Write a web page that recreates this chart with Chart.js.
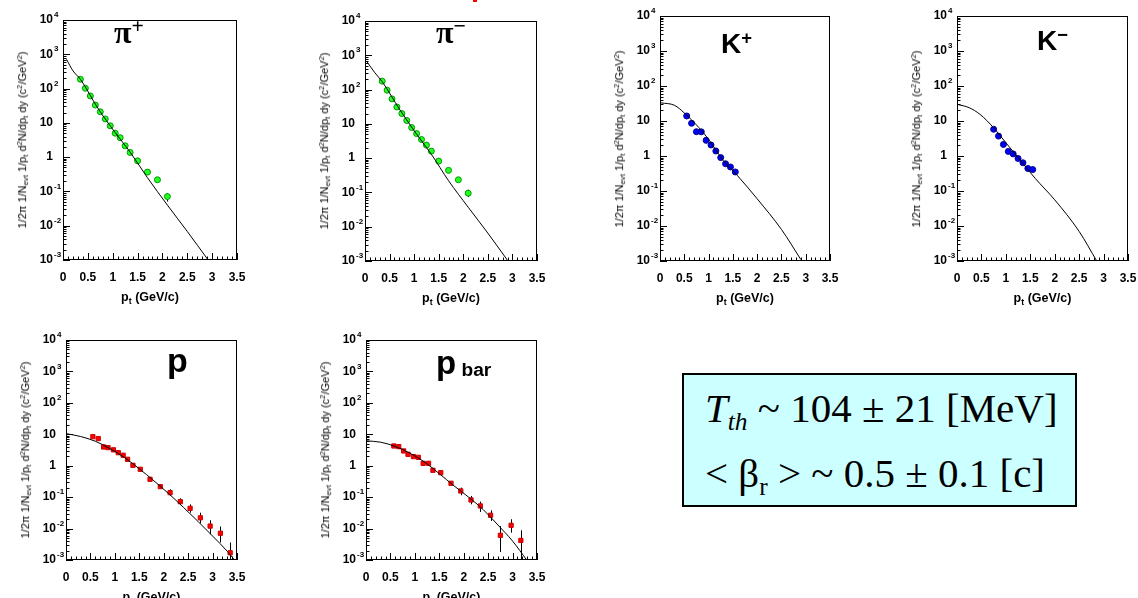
<!DOCTYPE html>
<html>
<head>
<meta charset="utf-8">
<script src="https://cdn.jsdelivr.net/npm/chart.js@4.4.0/dist/chart.umd.min.js"></script>
<style>
  body { margin: 0; width: 1138px; height: 598px; background: #fff; position: relative; overflow: hidden; }
  .lab { position: absolute; line-height: 1; color: #000; white-space: nowrap; }
  .sym { font-family: "Liberation Serif", serif; font-weight: bold; font-size: 32px; }
  .let { font-family: "Liberation Sans", Arial, sans-serif; font-weight: bold; }
  .xt { font-family: "Liberation Sans", Arial, sans-serif; font-weight: bold; font-size: 12.5px; transform: translateX(-50%); }
  .yt { font-family: "Liberation Sans", Arial, sans-serif; font-size: 11px; transform: translate(-50%, -50%) rotate(-90deg); }
  .yt sub, .xt sub { font-size: 0.7em; vertical-align: -0.3em; }
  .yt sup { font-size: 0.7em; vertical-align: 0.5em; }
  #box { position: absolute; left: 682px; top: 373px; width: 391px; height: 130px; border: 2px solid #000; background: #ccffff; }
  .bl { font-family: "Liberation Serif", "Times New Roman", serif; font-size: 41px; }
  .bl sub { font-size: 0.62em; vertical-align: -0.3em; }
</style>
</head>
<body>
<div id="box"></div>
<div class="lab bl" style="left:705px;top:388px"><i>T</i><sub><i>th</i></sub> ~ 104 ± 21 [MeV]</div>
<div class="lab bl" style="left:705px;top:453px">&lt; β<sub>r</sub> &gt; ~ 0.5 ± 0.1 [c]</div>
<div style="position:absolute;left:473px;top:0;width:4px;height:2px;background:#ff0000"></div>

<script>
// ---- data ----
const yTickValues = [0.001, 0.01, 0.1, 1, 10, 100, 1000, 10000];
const yTickBase   = ['10', '10', '10', '1', '10', '10', '10', '10'];
const yTickExp    = ['-3', '-2', '-1', '', '', '2', '3', '4'];
const xTickLabels = ['0', '0.5', '1', '1.5', '2', '2.5', '3', '3.5'];

const piPlusPt    = [0.35, 0.45, 0.55, 0.65, 0.75, 0.85, 0.95, 1.05, 1.15, 1.25, 1.35, 1.5, 1.7, 1.9, 2.1];
const piPlusYield = [187, 102, 61, 33, 21, 13, 8.2, 5.0, 3.7, 2.14, 1.37, 0.78, 0.366, 0.219, 0.071];
const piPlusErrLo = [null, null, null, null, null, null, null, null, null, null, null, null, null, null, 0.051];
const piPlusErrHi = [null, null, null, null, null, null, null, null, null, null, null, null, null, null, 0.089];
const piPlusFitPt = [0.07, 0.2, 0.35, 0.7, 1.05, 1.35, 1.7, 2.1, 2.5, 2.92];
const piPlusFitY  = [715, 330, 187, 27, 5.2, 1.4, 0.25, 0.04, 0.0068, 0.001];

const piMinusPt    = [0.35, 0.45, 0.55, 0.65, 0.75, 0.85, 0.95, 1.05, 1.15, 1.25, 1.35, 1.5, 1.7, 1.9, 2.1];
const piMinusYield = [176, 96, 53.5, 31, 20, 12.5, 7.8, 5.2, 3.5, 2.4, 1.6, 0.82, 0.44, 0.234, 0.095];
const piMinusErrLo = [null, null, null, null, null, null, null, null, null, null, null, null, null, null, 0.073];
const piMinusErrHi = [null, null, null, null, null, null, null, null, null, null, null, null, null, null, 0.12];
const piMinusFitPt = [0.03, 0.2, 0.35, 0.7, 1.05, 1.35, 1.7, 2.1, 2.5, 2.91];
const piMinusFitY  = [680, 310, 170, 27, 5.0, 1.3, 0.22, 0.037, 0.0065, 0.001];

const kPlusPt    = [0.55, 0.65, 0.75, 0.85, 0.95, 1.05, 1.15, 1.25, 1.35, 1.45, 1.55];
const kPlusYield = [13.9, 8.6, 4.95, 4.9, 2.8, 2.06, 1.39, 0.90, 0.60, 0.485, 0.35];
const kPlusFitPt = [0.02, 0.3, 0.5, 0.8, 1.0, 1.3, 1.6, 2.0, 2.5, 2.9];
const kPlusFitY  = [33, 28, 17, 6.5, 3.0, 0.75, 0.27, 0.06, 0.008, 0.0011];

const kMinusPt    = [0.75, 0.85, 0.95, 1.05, 1.15, 1.25, 1.35, 1.45, 1.55];
const kMinusYield = [5.8, 3.7, 2.14, 1.35, 1.15, 0.85, 0.64, 0.44, 0.41];
const kMinusFitPt = [0, 0.25, 0.47, 0.75, 1.0, 1.3, 1.6, 2.0, 2.5, 2.86];
const kMinusFitY  = [30, 24, 15.5, 6.4, 2.4, 0.74, 0.23, 0.056, 0.007, 0.001];

const protonPt    = [0.55, 0.66, 0.77, 0.86, 0.97, 1.07, 1.17, 1.26, 1.37, 1.52, 1.72, 1.93, 2.13, 2.34, 2.54, 2.75, 2.95, 3.16, 3.36];
const protonYield = [8.4, 7.3, 3.95, 3.77, 3.2, 2.6, 2.15, 1.6, 1.03, 0.77, 0.37, 0.216, 0.139, 0.072, 0.044, 0.022, 0.012, 0.0071, 0.0017];
const protonErrLo = [null, null, null, null, null, null, null, null, null, null, null, 0.19, 0.109, 0.0565, 0.032, 0.0148, 0.0066, 0.0036, 0.001];
const protonErrHi = [null, null, null, null, null, null, null, null, null, null, null, 0.245, 0.178, 0.092, 0.059, 0.032, 0.0184, 0.0116, 0.0036];
const protonFitPt = [0, 0.3, 0.6, 0.9, 1.2, 1.5, 1.8, 2.1, 2.4, 2.7, 3.0, 3.3, 3.45];
const protonFitY  = [10.5, 8.5, 6, 3.5, 1.8, 0.8, 0.33, 0.13, 0.048, 0.017, 0.0058, 0.0019, 0.001];

const pbarPt    = [0.57, 0.67, 0.77, 0.86, 0.97, 1.07, 1.17, 1.28, 1.37, 1.53, 1.74, 1.94, 2.15, 2.34, 2.55, 2.75, 2.97, 3.17];
const pbarYield = [4.25, 4.05, 2.95, 2.31, 1.95, 1.85, 1.19, 1.19, 0.716, 0.60, 0.276, 0.157, 0.0814, 0.0525, 0.0265, 0.0061, 0.0127, 0.0042];
const pbarErrLo = [null, null, null, null, null, null, null, null, null, null, null, 0.115, 0.059, 0.0338, 0.0175, 0.0018, 0.0074, 0.001];
const pbarErrHi = [null, null, null, null, null, null, null, null, null, null, null, 0.201, 0.109, 0.072, 0.038, 0.0121, 0.0198, 0.0088];
const pbarFitPt = [0, 0.3, 0.6, 0.9, 1.2, 1.5, 1.8, 2.1, 2.4, 2.7, 3.0, 3.29];
const pbarFitY  = [6.2, 5.6, 4.1, 2.5, 1.3, 0.56, 0.23, 0.1, 0.04, 0.013, 0.004, 0.001];

// ---- panels: frame = [left, top, right, bottom] in page pixels ----
const panels = [
  {frame: [63, 20, 237, 260],  pt: piPlusPt,  y: piPlusYield,  lo: piPlusErrLo,  hi: piPlusErrHi,  fx: piPlusFitPt,  fy: piPlusFitY,  fill: '#22ff22', edge: '#009900', style: 'circle'},
  {frame: [365, 21, 537, 261], pt: piMinusPt, y: piMinusYield, lo: piMinusErrLo, hi: piMinusErrHi, fx: piMinusFitPt, fy: piMinusFitY, fill: '#22ff22', edge: '#009900', style: 'circle'},
  {frame: [660, 16, 830, 261], pt: kPlusPt,   y: kPlusYield,   lo: [], hi: [], fx: kPlusFitPt,  fy: kPlusFitY,  fill: '#0000ff', edge: '#000088', style: 'circle'},
  {frame: [957, 16, 1128, 261], pt: kMinusPt, y: kMinusYield,  lo: [], hi: [], fx: kMinusFitPt, fy: kMinusFitY, fill: '#0000ff', edge: '#000088', style: 'circle'},
  {frame: [66, 340, 237, 560],  pt: protonPt, y: protonYield,  lo: protonErrLo, hi: protonErrHi, fx: protonFitPt, fy: protonFitY, fill: '#ff0000', edge: '#cc0000', style: 'rect'},
  {frame: [366, 340, 537, 560], pt: pbarPt,   y: pbarYield,    lo: pbarErrLo,   hi: pbarErrHi,   fx: pbarFitPt,   fy: pbarFitY,   fill: '#ff0000', edge: '#cc0000', style: 'rect'}
];

const fontFam = '"Liberation Sans", Arial, sans-serif';
const tickFont = {family: fontFam, size: 12, weight: 'bold'};

// frame, inward ROOT-style tick marks and y labels with raised exponents
const frameTicks = {
  id: 'frameTicks',
  afterDatasetsDraw(chart) {
    const {ctx, chartArea: a, scales: {x, y}} = chart;
    ctx.save();
    ctx.strokeStyle = '#000';
    ctx.lineWidth = 1;
    ctx.strokeRect(a.left + 0.5, a.top + 0.5, a.right - a.left - 1, a.bottom - a.top - 1);
    ctx.beginPath();
    for (let i = 0; i <= 35; i++) {
      const px = Math.round(x.getPixelForValue(i / 10)) + 0.5;
      const len = i % 5 === 0 ? 7 : 3.5;
      ctx.moveTo(px, a.bottom);
      ctx.lineTo(px, a.bottom - len);
    }
    for (let e = -3; e <= 4; e++) {
      for (let m = 1; m <= 9; m++) {
        const v = m * Math.pow(10, e);
        if (v > 10000) break;
        const py = Math.round(y.getPixelForValue(v)) + 0.5;
        const len = m === 1 ? 7 : 3.5;
        ctx.moveTo(a.left, py);
        ctx.lineTo(a.left + len, py);
      }
    }
    ctx.stroke();

    ctx.fillStyle = '#000';
    ctx.textBaseline = 'middle';
    yTickValues.forEach((v, i) => {
      const py = y.getPixelForValue(v);
      ctx.font = 'bold 12px ' + fontFam;
      ctx.textAlign = 'right';
      ctx.fillText(yTickBase[i], a.left - 10, py);
      if (yTickExp[i]) {
        ctx.font = 'bold 8px ' + fontFam;
        ctx.textAlign = 'left';
        ctx.fillText(yTickExp[i], a.left - 9, py - 5);
      }
    });
    ctx.restore();
  }
};

// vertical error bars from errLo / errHi on the marker dataset
const errorBars = {
  id: 'errorBars',
  beforeDatasetsDraw(chart) {
    const {ctx, chartArea: a, scales: {x, y}} = chart;
    ctx.save();
    ctx.beginPath();
    ctx.rect(a.left, a.top, a.right - a.left, a.bottom - a.top);
    ctx.clip();
    ctx.strokeStyle = '#000';
    ctx.lineWidth = 1;
    chart.data.datasets.forEach(ds => {
      if (!ds.errLo) return;
      ds.data.forEach((pnt, i) => {
        if (ds.errLo[i] == null) return;
        const px = Math.round(x.getPixelForValue(pnt.x)) + 0.5;
        ctx.beginPath();
        ctx.moveTo(px, y.getPixelForValue(ds.errLo[i]));
        ctx.lineTo(px, y.getPixelForValue(ds.errHi[i]));
        ctx.stroke();
      });
    });
    ctx.restore();
  }
};

const yTitle = '1/2\u03C0 1/N<sub>evt</sub> 1/p<sub>t</sub> d<sup>2</sup>N/dp<sub>t</sub> dy (c<sup>2</sup>/GeV<sup>2</sup>)';
const xTitle = 'p<sub>t</sub> (GeV/c)';

function addLabel(cls, style, html) {
  const d = document.createElement('div');
  d.className = 'lab ' + cls;
  d.style.cssText = style;
  d.innerHTML = html;
  document.body.appendChild(d);
}

function buildPanel(p) {
  const padTop = 12, padRight = 12, axisW = 62, axisH = 50;
  const [L, T, R, B] = p.frame;
  const W = R - L + axisW + padRight;
  const H = B - T + padTop + axisH;
  const cv = document.createElement('canvas');
  cv.width = W;
  cv.height = H;
  cv.style.cssText = `position:absolute;left:${L - axisW}px;top:${T - padTop}px;width:${W}px;height:${H}px`;
  document.body.appendChild(cv);

  new Chart(cv.getContext('2d'), {
    data: {
      datasets: [
        {
          type: 'line',
          data: p.fx.map((v, i) => ({x: v, y: p.fy[i]})),
          borderColor: '#000',
          borderWidth: 1,
          pointRadius: 0,
          cubicInterpolationMode: 'monotone',
          fill: false
        },
        {
          type: 'scatter',
          data: p.pt.map((v, i) => ({x: v, y: p.y[i]})),
          errLo: p.lo,
          errHi: p.hi,
          backgroundColor: p.fill,
          borderColor: p.edge,
          borderWidth: 1,
          pointStyle: p.style,
          pointRadius: 3
        }
      ]
    },
    options: {
      responsive: false,
      animation: false,
      devicePixelRatio: 1,
      layout: {padding: {left: 0, top: padTop, right: padRight, bottom: 0}},
      plugins: {legend: {display: false}, tooltip: {enabled: false}},
      scales: {
        x: {
          type: 'linear',
          min: 0,
          max: 3.5,
          grid: {display: false, drawTicks: false, tickLength: 0},
          border: {display: false},
          ticks: {stepSize: 0.5, font: tickFont, color: '#000', padding: 10, maxRotation: 0, autoSkip: false,
                  callback: (v, i) => xTickLabels[i]},
          afterFit: s => { s.height = axisH; s.paddingLeft = 0; s.paddingRight = 0; }
        },
        y: {
          type: 'logarithmic',
          min: 0.001,
          max: 10000,
          grid: {display: false, drawTicks: false, tickLength: 0},
          border: {display: false},
          ticks: {display: false},
          afterBuildTicks: s => { s.ticks = yTickValues.map(v => ({value: v})); },
          afterFit: s => { s.width = axisW; s.paddingTop = 0; s.paddingBottom = 0; }
        }
      }
    },
    plugins: [errorBars, frameTicks]
  });

  addLabel('yt', `left:${L - 40}px;top:${(T + B) / 2}px`, yTitle);
  addLabel('xt', `left:${(L + R) / 2}px;top:${B + 31}px`, xTitle);
}

panels.forEach(buildPanel);

// particle names inside the frames
addLabel('sym', 'left:114px;top:16px', '\u03C0<sup style="font-size:0.68em;vertical-align:0.45em">+</sup>');
addLabel('sym', 'left:436px;top:16px', '\u03C0<sup style="font-size:0.68em;vertical-align:0.45em">\u2212</sup>');
addLabel('let', 'left:721px;top:29px;font-size:28px', 'K<sup style="font-size:0.66em;vertical-align:0.5em">+</sup>');
addLabel('let', 'left:1037px;top:26px;font-size:28px', 'K<sup style="font-size:0.66em;vertical-align:0.5em">\u2212</sup>');
addLabel('let', 'left:167px;top:343px;font-size:34px', 'p');
addLabel('let', 'left:436px;top:346px;font-size:33px', 'p<span style="font-size:0.58em;vertical-align:-0.1em"> bar</span>');
</script>
</body>
</html>
